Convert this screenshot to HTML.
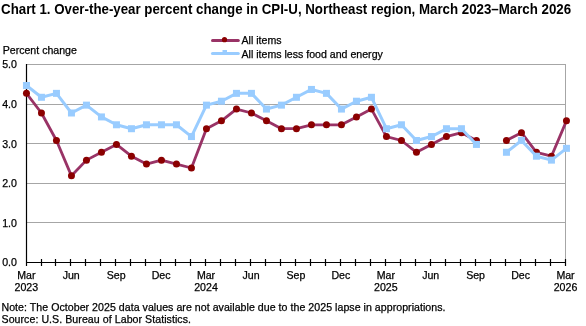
<!DOCTYPE html>
<html><head><meta charset="utf-8"><style>
html,body{margin:0;padding:0;background:#fff;width:586px;height:326px;overflow:hidden}
svg{display:block;will-change:transform}
.t{font-family:"Liberation Sans", sans-serif;font-size:10.6px;fill:#000;stroke:#000;stroke-width:0.25px}
.ti{font-family:"Liberation Sans", sans-serif;font-size:14px;font-weight:bold;fill:#000}
</style></head><body>
<svg width="586" height="326" viewBox="0 0 586 326">
<line x1="26" y1="222.5" x2="566" y2="222.5" stroke="#A6A6A6" stroke-width="1"/>
<line x1="26" y1="183.5" x2="566" y2="183.5" stroke="#A6A6A6" stroke-width="1"/>
<line x1="26" y1="143.5" x2="566" y2="143.5" stroke="#A6A6A6" stroke-width="1"/>
<line x1="26" y1="104.5" x2="566" y2="104.5" stroke="#A6A6A6" stroke-width="1"/>
<line x1="26" y1="64.5" x2="566" y2="64.5" stroke="#A6A6A6" stroke-width="1"/>
<line x1="565.5" y1="64" x2="565.5" y2="262" stroke="#A6A6A6" stroke-width="1"/>
<line x1="26.5" y1="64" x2="26.5" y2="266" stroke="#000" stroke-width="1.2"/>
<line x1="26" y1="262.5" x2="566" y2="262.5" stroke="#000" stroke-width="1.2"/>
<line x1="41.5" y1="259" x2="41.5" y2="266" stroke="#000" stroke-width="1.2"/>
<line x1="55.5" y1="259" x2="55.5" y2="266" stroke="#000" stroke-width="1.2"/>
<line x1="70.5" y1="259" x2="70.5" y2="266" stroke="#000" stroke-width="1.2"/>
<line x1="85.5" y1="259" x2="85.5" y2="266" stroke="#000" stroke-width="1.2"/>
<line x1="100.5" y1="259" x2="100.5" y2="266" stroke="#000" stroke-width="1.2"/>
<line x1="115.5" y1="259" x2="115.5" y2="266" stroke="#000" stroke-width="1.2"/>
<line x1="130.5" y1="259" x2="130.5" y2="266" stroke="#000" stroke-width="1.2"/>
<line x1="145.5" y1="259" x2="145.5" y2="266" stroke="#000" stroke-width="1.2"/>
<line x1="160.5" y1="259" x2="160.5" y2="266" stroke="#000" stroke-width="1.2"/>
<line x1="175.5" y1="259" x2="175.5" y2="266" stroke="#000" stroke-width="1.2"/>
<line x1="190.5" y1="259" x2="190.5" y2="266" stroke="#000" stroke-width="1.2"/>
<line x1="205.5" y1="259" x2="205.5" y2="266" stroke="#000" stroke-width="1.2"/>
<line x1="220.5" y1="259" x2="220.5" y2="266" stroke="#000" stroke-width="1.2"/>
<line x1="235.5" y1="259" x2="235.5" y2="266" stroke="#000" stroke-width="1.2"/>
<line x1="250.5" y1="259" x2="250.5" y2="266" stroke="#000" stroke-width="1.2"/>
<line x1="265.5" y1="259" x2="265.5" y2="266" stroke="#000" stroke-width="1.2"/>
<line x1="280.5" y1="259" x2="280.5" y2="266" stroke="#000" stroke-width="1.2"/>
<line x1="295.5" y1="259" x2="295.5" y2="266" stroke="#000" stroke-width="1.2"/>
<line x1="310.5" y1="259" x2="310.5" y2="266" stroke="#000" stroke-width="1.2"/>
<line x1="325.5" y1="259" x2="325.5" y2="266" stroke="#000" stroke-width="1.2"/>
<line x1="340.5" y1="259" x2="340.5" y2="266" stroke="#000" stroke-width="1.2"/>
<line x1="355.5" y1="259" x2="355.5" y2="266" stroke="#000" stroke-width="1.2"/>
<line x1="370.5" y1="259" x2="370.5" y2="266" stroke="#000" stroke-width="1.2"/>
<line x1="385.5" y1="259" x2="385.5" y2="266" stroke="#000" stroke-width="1.2"/>
<line x1="400.5" y1="259" x2="400.5" y2="266" stroke="#000" stroke-width="1.2"/>
<line x1="415.5" y1="259" x2="415.5" y2="266" stroke="#000" stroke-width="1.2"/>
<line x1="430.5" y1="259" x2="430.5" y2="266" stroke="#000" stroke-width="1.2"/>
<line x1="445.5" y1="259" x2="445.5" y2="266" stroke="#000" stroke-width="1.2"/>
<line x1="460.5" y1="259" x2="460.5" y2="266" stroke="#000" stroke-width="1.2"/>
<line x1="475.5" y1="259" x2="475.5" y2="266" stroke="#000" stroke-width="1.2"/>
<line x1="490.5" y1="259" x2="490.5" y2="266" stroke="#000" stroke-width="1.2"/>
<line x1="505.5" y1="259" x2="505.5" y2="266" stroke="#000" stroke-width="1.2"/>
<line x1="520.5" y1="259" x2="520.5" y2="266" stroke="#000" stroke-width="1.2"/>
<line x1="535.5" y1="259" x2="535.5" y2="266" stroke="#000" stroke-width="1.2"/>
<line x1="550.5" y1="259" x2="550.5" y2="266" stroke="#000" stroke-width="1.2"/>
<line x1="565.5" y1="259" x2="565.5" y2="266" stroke="#000" stroke-width="1.2"/>
<text x="16.9" y="266.4" text-anchor="end" class="t">0.0</text>
<text x="16.9" y="226.8" text-anchor="end" class="t">1.0</text>
<text x="16.9" y="187.2" text-anchor="end" class="t">2.0</text>
<text x="16.9" y="147.6" text-anchor="end" class="t">3.0</text>
<text x="16.9" y="108.0" text-anchor="end" class="t">4.0</text>
<text x="16.9" y="68.4" text-anchor="end" class="t">5.0</text>
<text x="26.3" y="278.7" text-anchor="middle" class="t">Mar</text>
<text x="26.3" y="290.6" text-anchor="middle" class="t">2023</text>
<text x="71.2" y="278.7" text-anchor="middle" class="t">Jun</text>
<text x="116.2" y="278.7" text-anchor="middle" class="t">Sep</text>
<text x="161.1" y="278.7" text-anchor="middle" class="t">Dec</text>
<text x="206.0" y="278.7" text-anchor="middle" class="t">Mar</text>
<text x="206.0" y="290.6" text-anchor="middle" class="t">2024</text>
<text x="251.0" y="278.7" text-anchor="middle" class="t">Jun</text>
<text x="295.9" y="278.7" text-anchor="middle" class="t">Sep</text>
<text x="340.8" y="278.7" text-anchor="middle" class="t">Dec</text>
<text x="385.8" y="278.7" text-anchor="middle" class="t">Mar</text>
<text x="385.8" y="290.6" text-anchor="middle" class="t">2025</text>
<text x="430.7" y="278.7" text-anchor="middle" class="t">Jun</text>
<text x="475.6" y="278.7" text-anchor="middle" class="t">Sep</text>
<text x="520.6" y="278.7" text-anchor="middle" class="t">Dec</text>
<text x="565.5" y="278.7" text-anchor="middle" class="t">Mar</text>
<text x="565.5" y="290.6" text-anchor="middle" class="t">2026</text>
<polyline points="26.45,93.36 41.45,113.00 56.45,140.49 71.45,175.84 86.45,160.13 101.45,152.28 116.45,144.42 131.45,156.20 146.45,164.06 161.45,160.13 176.45,164.06 191.45,167.99 206.45,128.71 221.45,120.85 236.45,109.07 251.45,113.00 266.45,120.85 281.45,128.71 296.45,128.71 311.45,124.78 326.45,124.78 341.45,124.78 356.45,116.92 371.45,109.07 386.45,136.56 401.45,140.49 416.45,152.28 431.45,144.42 446.45,136.56 461.45,132.64 476.45,140.49" fill="none" stroke="#993366" stroke-width="2.8" stroke-linejoin="round"/>
<polyline points="506.45,140.49 521.45,132.64 536.45,152.28 551.45,156.20 566.45,120.85" fill="none" stroke="#993366" stroke-width="2.8" stroke-linejoin="round"/>
<circle cx="26.45" cy="93.36" r="3.5" fill="#8B0000"/>
<circle cx="41.45" cy="113.00" r="3.5" fill="#8B0000"/>
<circle cx="56.45" cy="140.49" r="3.5" fill="#8B0000"/>
<circle cx="71.45" cy="175.84" r="3.5" fill="#8B0000"/>
<circle cx="86.45" cy="160.13" r="3.5" fill="#8B0000"/>
<circle cx="101.45" cy="152.28" r="3.5" fill="#8B0000"/>
<circle cx="116.45" cy="144.42" r="3.5" fill="#8B0000"/>
<circle cx="131.45" cy="156.20" r="3.5" fill="#8B0000"/>
<circle cx="146.45" cy="164.06" r="3.5" fill="#8B0000"/>
<circle cx="161.45" cy="160.13" r="3.5" fill="#8B0000"/>
<circle cx="176.45" cy="164.06" r="3.5" fill="#8B0000"/>
<circle cx="191.45" cy="167.99" r="3.5" fill="#8B0000"/>
<circle cx="206.45" cy="128.71" r="3.5" fill="#8B0000"/>
<circle cx="221.45" cy="120.85" r="3.5" fill="#8B0000"/>
<circle cx="236.45" cy="109.07" r="3.5" fill="#8B0000"/>
<circle cx="251.45" cy="113.00" r="3.5" fill="#8B0000"/>
<circle cx="266.45" cy="120.85" r="3.5" fill="#8B0000"/>
<circle cx="281.45" cy="128.71" r="3.5" fill="#8B0000"/>
<circle cx="296.45" cy="128.71" r="3.5" fill="#8B0000"/>
<circle cx="311.45" cy="124.78" r="3.5" fill="#8B0000"/>
<circle cx="326.45" cy="124.78" r="3.5" fill="#8B0000"/>
<circle cx="341.45" cy="124.78" r="3.5" fill="#8B0000"/>
<circle cx="356.45" cy="116.92" r="3.5" fill="#8B0000"/>
<circle cx="371.45" cy="109.07" r="3.5" fill="#8B0000"/>
<circle cx="386.45" cy="136.56" r="3.5" fill="#8B0000"/>
<circle cx="401.45" cy="140.49" r="3.5" fill="#8B0000"/>
<circle cx="416.45" cy="152.28" r="3.5" fill="#8B0000"/>
<circle cx="431.45" cy="144.42" r="3.5" fill="#8B0000"/>
<circle cx="446.45" cy="136.56" r="3.5" fill="#8B0000"/>
<circle cx="461.45" cy="132.64" r="3.5" fill="#8B0000"/>
<circle cx="476.45" cy="140.49" r="3.5" fill="#8B0000"/>
<circle cx="506.45" cy="140.49" r="3.5" fill="#8B0000"/>
<circle cx="521.45" cy="132.64" r="3.5" fill="#8B0000"/>
<circle cx="536.45" cy="152.28" r="3.5" fill="#8B0000"/>
<circle cx="551.45" cy="156.20" r="3.5" fill="#8B0000"/>
<circle cx="566.45" cy="120.85" r="3.5" fill="#8B0000"/>
<polyline points="26.45,85.50 41.45,97.28 56.45,93.36 71.45,113.00 86.45,105.14 101.45,116.92 116.45,124.78 131.45,128.71 146.45,124.78 161.45,124.78 176.45,124.78 191.45,136.56 206.45,105.14 221.45,101.21 236.45,93.36 251.45,93.36 266.45,109.07 281.45,105.14 296.45,97.28 311.45,89.43 326.45,93.36 341.45,109.07 356.45,101.21 371.45,97.28 386.45,128.71 401.45,124.78 416.45,140.49 431.45,136.56 446.45,128.71 461.45,128.71 476.45,144.42" fill="none" stroke="#99CCFF" stroke-width="3" stroke-linejoin="round"/>
<polyline points="506.45,152.28 521.45,140.49 536.45,156.20 551.45,160.13 566.45,148.35" fill="none" stroke="#99CCFF" stroke-width="3" stroke-linejoin="round"/>
<rect x="22.95" y="82.00" width="7" height="7" fill="#99CCFF"/>
<rect x="37.95" y="93.78" width="7" height="7" fill="#99CCFF"/>
<rect x="52.95" y="89.86" width="7" height="7" fill="#99CCFF"/>
<rect x="67.95" y="109.50" width="7" height="7" fill="#99CCFF"/>
<rect x="82.95" y="101.64" width="7" height="7" fill="#99CCFF"/>
<rect x="97.95" y="113.42" width="7" height="7" fill="#99CCFF"/>
<rect x="112.95" y="121.28" width="7" height="7" fill="#99CCFF"/>
<rect x="127.95" y="125.21" width="7" height="7" fill="#99CCFF"/>
<rect x="142.95" y="121.28" width="7" height="7" fill="#99CCFF"/>
<rect x="157.95" y="121.28" width="7" height="7" fill="#99CCFF"/>
<rect x="172.95" y="121.28" width="7" height="7" fill="#99CCFF"/>
<rect x="187.95" y="133.06" width="7" height="7" fill="#99CCFF"/>
<rect x="202.95" y="101.64" width="7" height="7" fill="#99CCFF"/>
<rect x="217.95" y="97.71" width="7" height="7" fill="#99CCFF"/>
<rect x="232.95" y="89.86" width="7" height="7" fill="#99CCFF"/>
<rect x="247.95" y="89.86" width="7" height="7" fill="#99CCFF"/>
<rect x="262.95" y="105.57" width="7" height="7" fill="#99CCFF"/>
<rect x="277.95" y="101.64" width="7" height="7" fill="#99CCFF"/>
<rect x="292.95" y="93.78" width="7" height="7" fill="#99CCFF"/>
<rect x="307.95" y="85.93" width="7" height="7" fill="#99CCFF"/>
<rect x="322.95" y="89.86" width="7" height="7" fill="#99CCFF"/>
<rect x="337.95" y="105.57" width="7" height="7" fill="#99CCFF"/>
<rect x="352.95" y="97.71" width="7" height="7" fill="#99CCFF"/>
<rect x="367.95" y="93.78" width="7" height="7" fill="#99CCFF"/>
<rect x="382.95" y="125.21" width="7" height="7" fill="#99CCFF"/>
<rect x="397.95" y="121.28" width="7" height="7" fill="#99CCFF"/>
<rect x="412.95" y="136.99" width="7" height="7" fill="#99CCFF"/>
<rect x="427.95" y="133.06" width="7" height="7" fill="#99CCFF"/>
<rect x="442.95" y="125.21" width="7" height="7" fill="#99CCFF"/>
<rect x="457.95" y="125.21" width="7" height="7" fill="#99CCFF"/>
<rect x="472.95" y="140.92" width="7" height="7" fill="#99CCFF"/>
<rect x="502.95" y="148.78" width="7" height="7" fill="#99CCFF"/>
<rect x="517.95" y="136.99" width="7" height="7" fill="#99CCFF"/>
<rect x="532.95" y="152.70" width="7" height="7" fill="#99CCFF"/>
<rect x="547.95" y="156.63" width="7" height="7" fill="#99CCFF"/>
<rect x="562.95" y="144.85" width="7" height="7" fill="#99CCFF"/>
<line x1="212.5" y1="40.4" x2="238.3" y2="40.4" stroke="#993366" stroke-width="3" stroke-linecap="round"/>
<circle cx="224.5" cy="39.7" r="2.6" fill="#8B0000"/>
<text x="241.5" y="43.8" class="t">All items</text>
<line x1="212.5" y1="53.5" x2="238.3" y2="53.5" stroke="#99CCFF" stroke-width="3.1" stroke-linecap="round"/>
<rect x="222.5" y="50" width="4.5" height="5" fill="#99CCFF"/>
<text x="241.5" y="57.6" class="t">All items less food and energy</text>
<text x="1.1" y="13.8" class="ti" textLength="570" lengthAdjust="spacingAndGlyphs">Chart 1. Over-the-year percent change in CPI-U, Northeast region, March 2023–March 2026</text>
<text x="2.7" y="53.7" class="t">Percent change</text>
<text x="1.5" y="311" class="t" textLength="444" lengthAdjust="spacing">Note: The October 2025 data values are not available due to the 2025 lapse in appropriations.</text>
<text x="1.5" y="322.7" class="t" textLength="189.5" lengthAdjust="spacing">Source: U.S. Bureau of Labor Statistics.</text>
</svg>
</body></html>
